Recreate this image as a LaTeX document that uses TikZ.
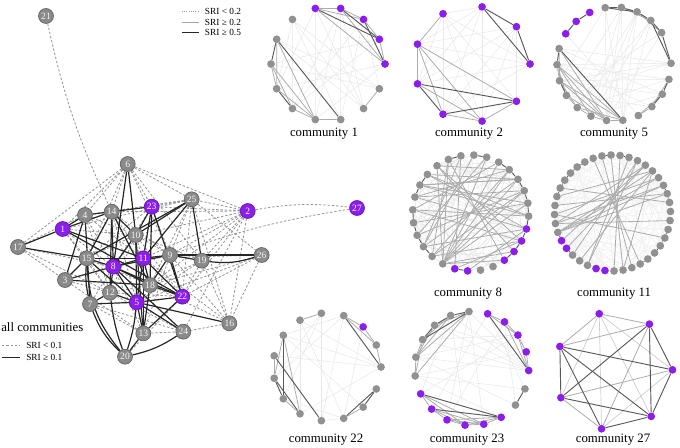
\documentclass[tikz,border=0pt]{standalone}
\usepackage{fontspec}
\setmainfont{Liberation Serif}
\definecolor{pur}{RGB}{140,30,235}
\definecolor{ngray}{RGB}{138,138,138}
\definecolor{nbord}{RGB}{95,95,95}
\definecolor{cgray}{RGB}{145,145,145}
\pgfdeclarelayer{bg}
\pgfsetlayers{bg,main}
\tikzset{
 mn/.style={circle,fill=ngray,draw=nbord,line width=0.5pt,minimum size=11.2pt,inner sep=0pt,text=white!92!gray,font=\fontsize{7.2}{7.2}\selectfont},
 mp/.style={mn,fill=pur,draw=pur!70!black},
 weak/.style={draw=gray!85,line width=0.6pt,dash pattern=on 1.8pt off 1.4pt},
 strong/.style={draw=black!85,line width=0.9pt},
 cnode/.style={circle,fill=cgray,inner sep=0pt,minimum size=5.8pt},
 cpnode/.style={cnode,fill=pur},
 edl/.style={draw=gray!18,line width=0.4pt},
 edvl/.style={draw=gray!11,line width=0.4pt},
 edml/.style={draw=gray!40,line width=0.5pt},
 edm/.style={draw=gray!65,line width=0.6pt},
 edd/.style={draw=black!65,line width=0.7pt},
 lab/.style={font=\fontsize{9.6}{11}\selectfont,inner sep=0pt},
 leg/.style={font=\fontsize{7}{8}\selectfont,anchor=west,inner sep=0pt},
}
\newcommand\ringnodes[8]{%
 \foreach \k in {#7}{\node[#8] (#1-\k) at ({#2+#4*cos(#5+\k*#6)},{#3-#4*sin(#5+\k*#6)}) {};}}
\newcommand\ringedges[3]{\foreach \a/\b in {#3}{\draw[#2] (#1-\a) -- (#1-\b);}}
\newcommand\ringchords[5]{\foreach \k in {0,...,\numexpr#2-1\relax}{%
 \pgfmathtruncatemacro\j{mod(\k*#3+#4,#2)}\draw[#5] (#1-\k) -- (#1-\j);}}
\begin{document}
\begin{tikzpicture}[x=0.75pt,y=-0.75pt]
\useasboundingbox (0,0) rectangle (680,448);
% ---------------- main network ----------------
\node[mp] (n1) at (62.7,229) {1};
\node[mp] (n2) at (247.7,211) {2};
\node[mn] (n3) at (65,280) {3};
\node[mn] (n4) at (85,215) {4};
\node[mp] (n5) at (136.7,302.3) {5};
\node[mn] (n6) at (127.7,164) {6};
\node[mn] (n7) at (90,304) {7};
\node[mp] (n8) at (113.3,266.7) {8};
\node[mn] (n9) at (170,255) {9};
\node[mn] (n10) at (135.7,235) {10};
\node[mp] (n11) at (143.3,258.3) {11};
\node[mn] (n12) at (110,292.7) {12};
\node[mn] (n13) at (143.3,333.3) {13};
\node[mn] (n14) at (111.7,211.7) {14};
\node[mn] (n15) at (86.7,258.3) {15};
\node[mn] (n16) at (229.3,323.3) {16};
\node[mn] (n17) at (18,247) {17};
\node[mn] (n18) at (150,285) {18};
\node[mn] (n19) at (201.7,260.7) {19};
\node[mn] (n20) at (125,356.7) {20};
\node[mn] (n21) at (46,16) {21};
\node[mp] (n22) at (182.3,296.7) {22};
\node[mp] (n23) at (151.7,206.7) {23};
\node[mn] (n24) at (183.3,331.7) {24};
\node[mn] (n25) at (191.7,199.3) {25};
\node[mn] (n26) at (261.7,255) {26};
\node[mp] (n27) at (357,208) {27};
\begin{pgfonlayer}{bg}
\draw[weak] (n21) to[bend right=6] (n14);
\draw[weak] (n2) to[bend left=8] (n27);
\draw[weak] (n27) to[bend right=5] (n9);
\foreach \a/\b in {6/1,6/4,6/14,6/23,6/25,6/2,6/9,6/19,6/17,6/15,2/14,2/23,2/25,2/10,2/9,2/11,2/19,2/18,2/22,2/16,2/24,25/4,25/1,25/23,25/9,25/22,25/16,25/18,25/26,25/14,26/22,26/18,26/16,26/11,26/5,16/18,16/9,16/11,16/19,16/24,17/3,17/8,17/4,17/12,19/22,19/5,19/18,19/10,4/10,4/8,4/12,1/8,1/15,1/12,3/12,3/13,7/13,7/24,12/24,12/18,13/24,10/15,10/18,10/22,15/18,14/9,14/11,23/9,23/5,22/20,9/13,8/13,12/22,10/12,23/15,23/8,1/10,4/11,14/5,10/9,15/12,7/8}
 {\draw[weak] (n\a) -- (n\b);}
\foreach \a/\b in {1/17,1/14,1/4,1/11,1/22,4/14,4/3,4/7,14/23,14/10,14/8,14/12,14/15,14/18,6/8,6/10,23/10,23/11,23/18,23/22,25/11,25/19,25/10,25/15,10/5,10/8,10/13,11/8,11/22,11/9,11/18,11/13,11/5,11/15,9/19,9/8,9/22,9/18,15/17,15/8,15/5,15/3,8/3,8/12,8/18,8/5,8/22,8/24,3/18,12/7,12/5,7/5,5/22,5/24,5/13,5/16,18/22,18/13,22/13,13/20}
 {\draw[strong] (n\a) -- (n\b);}
\draw[strong,line width=1.3pt] (n9) -- (n26);
\draw[strong] (n19) to[bend right=12] (n26);
\draw[strong] (n20) to[bend left=12] (n7);
\draw[strong] (n20) to[bend left=18] (n15);
\draw[strong] (n20) to[bend right=10] (n24);
\draw[strong] (n20) to[bend left=6] (n12);
\draw[strong] (n20) to[bend right=6] (n5);
\draw[strong] (n7) to[bend left=8] (n15);
\end{pgfonlayer}
% legends
\coordinate (ta1) at (181.7,11.7); \coordinate (tb1) at (199.3,11.7);
\coordinate (ta2) at (181.7,22); \coordinate (tb2) at (199.3,22);
\coordinate (ta3) at (181.7,32.3); \coordinate (tb3) at (199.3,32.3);
\draw[gray!80,line width=0.6pt,dash pattern=on 0.6pt off 1.1pt] (ta1) -- (tb1);
\draw[gray!70,line width=0.7pt] (ta2) -- (tb2);
\draw[black!85,line width=1.1pt] (ta3) -- (tb3);
\node[leg] (tl1) at (204.7,11.7) {SRI < 0.2};
\node[leg] (tl2) at (204.7,22) {SRI ≥ 0.2};
\node[leg] (tl3) at (204.7,32.3) {SRI ≥ 0.5};
\node[lab,anchor=west] (allc) at (1,327.5) {all communities};
\coordinate (ba1) at (2,345.7); \coordinate (bb1) at (20,345.7);
\coordinate (ba2) at (2,357.3); \coordinate (bb2) at (20,357.3);
\draw[weak] (ba1) -- (bb1);
\draw[strong] (ba2) -- (bb2);
\node[leg] (bl1) at (26,345.7) {SRI < 0.1};
\node[leg] (bl2) at (26,357.3) {SRI ≥ 0.1};
% ---------------- community 1 ----------------
\ringnodes{Ca}{328}{64}{57}{0}{25.714}{5,...,13}{cnode}
\ringnodes{Ca}{328}{64}{57}{0}{25.714}{0,...,4}{cpnode}
\begin{pgfonlayer}{bg}
\ringedges{Ca}{edl}{5/11,2/9,3/10,4/8,1/7,5/13,11/3,0/8,12/5,13/6,0/10,5/9,2/11,4/12,3/12,1/9,6/12,7/13,5/8,4/10,3/9,13/2}
\ringedges{Ca}{edm}{4/3,4/2,4/0,3/2,3/0,2/1,1/0,6/10,7/10,8/10,9/10,10/11,12/13,6/8,7/9,7/8}
\ringedges{Ca}{edd}{3/1,4/1,2/0,6/11,6/7,8/9}
\end{pgfonlayer}
\node[lab] (ta) at (324,134) {community 1};
% ---------------- community 2 ----------------
\ringnodes{Cb}{472}{64}{58}{0}{40}{0,...,8}{cpnode}
\begin{pgfonlayer}{bg}
\ringedges{Cb}{edl}{3/7,3/0,2/7,1/5,3/8,2/5,1/4,0/5,2/6,3/6,2/4,1/6,0/6,3/5,1/7,2/3,0/4,8/1}
\ringedges{Cb}{edm}{5/7,6/7,4/7,4/8,4/6,7/8,3/4,4/5}
\ringedges{Cb}{edd}{2/1,2/0,1/0,5/6,5/8,6/8}
\end{pgfonlayer}
\node[lab] (tb) at (469,134) {community 2};
% ---------------- community 5 ----------------
\ringnodes{Cc}{614}{64}{57}{0.7}{16.364}{0,2,3,4,5,6,10,11,12,13,14,15,16,17,18,19,20,21}{cnode}
\ringnodes{Cc}{614}{64}{57}{0.7}{16.364}{7,8,9}{cpnode}
\begin{pgfonlayer}{bg}
\ringedges{Cc}{edl}{13/5,14/4,15/3,12/6,16/2,17/5,10/20,11/19,12/21,9/18,6/16,4/15,3/14,11/0,12/0,13/0,14/21,15/20,10/0,11/21,12/20,16/4,17/3,13/19,6/17,5/15,2/13,4/17,5/16}
\ringedges{Cc}{edm}{5/3,4/2,11/12,13/14,14/15,10/12,11/13,12/14,18/19,19/21,18/20,11/17,12/17,13/16,11/16,10/16,12/16,14/17,15/16,16/17,11/15}
\ringedges{Cc}{edd}{7/8,8/9,6/5,5/4,4/3,3/2,2/0,6/4,3/0,10/17,10/11,12/13,19/20,20/21}
\end{pgfonlayer}
\node[lab] (tc) at (614,134) {community 5};
% ---------------- community 8 ----------------
\ringnodes{Cd}{470.7}{213}{58}{-3.1}{12.857}{0,...,19,22,23}{cnode}
\ringnodes{Cd}{470.7}{213}{58}{-3.1}{12.857}{20,21,24,25,26,27}{cpnode}
\begin{pgfonlayer}{bg}
\ringchords{Cd}{28}{11}{5}{edl}
\ringchords{Cd}{28}{9}{3}{edl}
\ringchords{Cd}{28}{5}{13}{edl}
\ringedges{Cd}{edm}{19/1,19/2,19/3,19/4,19/5,19/6,18/2,18/4,17/3,16/2,15/1,14/0,13/2,12/1,11/3,10/4,10/25,10/26,9/24,11/27,12/0,13/27,14/26,17/27,18/26,19/25,19/24,20/26,21/27,8/20,9/19,10/19,7/17,6/16,5/14,4/13,3/12,11/0,12/3,9/18,8/17}
\ringedges{Cd}{edd}{1/2,2/3,3/4,4/5,14/15,15/16,16/17,17/18,6/7,8/9,24/25,25/26,26/27,20/21,0/1,27/0,11/12,12/13}
\end{pgfonlayer}
\node[lab] (td) at (468,294) {community 8};
% ---------------- community 11 ----------------
\ringnodes{Ce}{612.5}{213}{58}{1.5}{9}{0,...,22,25,26,27,30,31,...,39}{cnode}
\ringnodes{Ce}{612.5}{213}{58}{1.5}{9}{23,24,28,29}{cpnode}
\begin{pgfonlayer}{bg}
\ringchords{Ce}{40}{13}{7}{edvl}
\ringchords{Ce}{40}{7}{11}{edvl}
\ringchords{Ce}{40}{17}{3}{edvl}
\ringchords{Ce}{40}{3}{15}{edvl}
\ringedges{Ce}{edm}{22/2,22/3,22/4,22/5,21/3,21/6,20/4,23/6,9/30,10/31,11/32,12/33,8/27,7/25,6/24,19/2,18/5,17/1,26/5,27/7,31/5,21/39,20/37}
\ringedges{Ce}{edd}{1/2,2/3,13/14,14/15,15/16,16/17,17/18,35/36,36/37,37/38,33/34,10/11,8/9,22/23,24/25}
\end{pgfonlayer}
\node[lab] (te) at (614,294) {community 11};
% ---------------- community 22 ----------------
\ringnodes{Cf}{327}{367}{54}{0}{24}{0,1,3,4,...,14}{cnode}
\ringnodes{Cf}{327}{367}{54}{0}{24}{2}{cpnode}
\begin{pgfonlayer}{bg}
\ringedges{Cf}{edl}{4/9,5/10,3/6,6/0,3/11,4/8,2/12,10/0,11/12,5/0,4/11,3/8,7/0,6/13,5/12,9/12}
\ringedges{Cf}{edm}{3/2,1/0,3/1,13/12,6/10,6/8,9/10,7/8,4/5,2/1}
\ringedges{Cf}{edd}{3/0,14/13,14/12,7/11,6/9,8/10,8/9}
\end{pgfonlayer}
\node[lab] (tf) at (326,440) {community 22};
% ---------------- community 23 ----------------
\ringnodes{Cg}{471.7}{368.5}{57}{-2}{18.947}{5,6,...,10,17,18}{cnode}
\ringnodes{Cg}{471.7}{368.5}{57}{-2}{18.947}{0,1,2,3,4,11,12,13,14,15,16}{cpnode}
\begin{pgfonlayer}{bg}
\ringedges{Cg}{edl}{5/0,6/0,7/0,8/0,9/0,10/1,5/15,6/14,4/12,3/13,7/1,8/2,9/17,10/18,5/13,6/11,18/4,17/3,9/2,10/16,11/2}
\ringedges{Cg}{edm}{5/7,8/9,9/10,7/9,8/10,5/9,6/9,6/8,4/3,3/2,2/1,1/0,4/2,3/0,2/0,11/15,11/14,12/15,13/16,13/14,14/15,15/16,11/12,12/13,12/14,13/15,14/16,5/10}
\ringedges{Cg}{edd}{5/6,5/8,6/7,7/8,11/16,12/16,17/18,4/0}
\end{pgfonlayer}
\node[lab] (tg) at (467,440) {community 23};
% ---------------- community 27 ----------------
\ringnodes{Ch}{613.5}{371}{59}{104}{51.43}{0,...,6}{cpnode}
\begin{pgfonlayer}{bg}
\ringedges{Ch}{edml}{0/2,0/3,0/4,0/5,3/5}
\ringedges{Ch}{edm}{1/6,6/3,2/5,0/1,0/6,2/3}
\ringedges{Ch}{edd}{1/4,1/5,6/2,2/4,3/4,1/3,1/2,5/4,5/6,6/4}
\end{pgfonlayer}
\node[lab] (th) at (613,440) {community 27};
\end{tikzpicture}
\end{document}
